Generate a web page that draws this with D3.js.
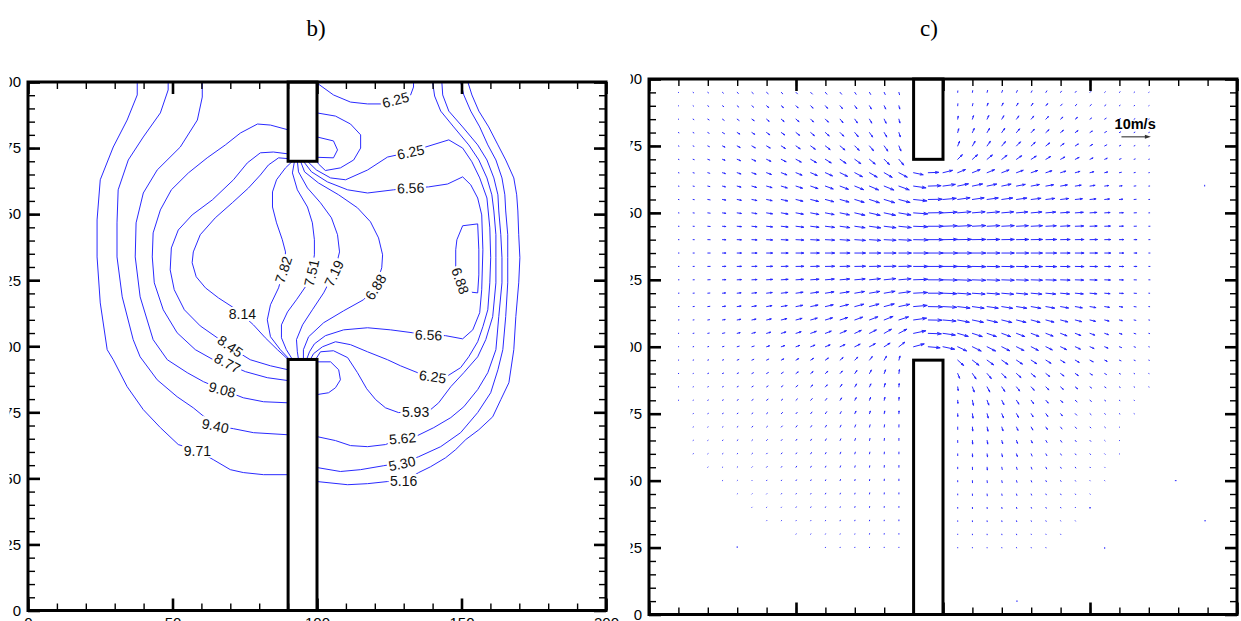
<!DOCTYPE html>
<html><head><meta charset="utf-8">
<script src="https://cdn.jsdelivr.net/npm/d3@7"></script>
<style>
body{margin:0;background:#fff}
svg{display:block}
</style>
</head><body>
<svg id="fig" width="1241" height="621"></svg>
<script>
// ---------------- DATA ----------------
const panelTitles = ["b)", "c)"];
const xMajorTicks = [0, 50, 100, 150, 200];
const yMajorTicks = [0, 25, 50, 75, 100, 125, 150, 175, 200];
const xMinorTicks = [0,10,20,30,40,50,60,70,80,90,100,110,120,130,140,150,160,170,180,190,200];
const yMinorTicks = [0,5,10,15,20,25,30,35,40,45,50,55,60,65,70,75,80,85,90,95,100,105,110,115,120,125,130,135,140,145,150,155,160,165,170,175,180,185,190,195,200];
// obstacles [x0, x1, y0, y1]
const blocks = [[90, 100, 170, 200], [90, 100, 0, 95]];

// contour lines (data coordinates)
const contourLines = [
 {lv:"9.71", pts:[[37.8,200],[37.8,195.1],[34.3,185.6],[29.5,175.4],[25.0,163.0],[23.9,147.8],[23.9,133.8],[25.0,116.4],[27.4,98.7],[29.5,94.9],[34.3,84.7],[39.9,76.0],[45.8,69.2],[52.0,62.8],[58.6,60.5],[64.1,57.1],[70.0,53.3],[74.5,52.2],[81.5,51.4],[90,51.4]]},
 {lv:"9.40", pts:[[48.5,200],[48.5,197.0],[45.8,188.3],[39.9,179.2],[34.7,170.5],[31.2,159.2],[30.8,146.7],[30.8,133.8],[32.6,118.7],[36.4,102.5],[38.8,96.0],[44.7,87.3],[51.6,80.9],[57.2,76.7],[64.8,69.9],[71.1,68.8],[78.0,67.3],[90,66.5]]},
 {lv:"9.08", pts:[[60.3,200],[60.3,194.3],[58.6,185.6],[52.7,175.4],[44.7,166.7],[39.9,158.0],[37.4,146.7],[37.1,133.8],[38.8,118.7],[43.3,102.5],[48.2,94.9],[55.1,90.0],[60.7,86.6],[67.2,83.6],[74.5,80.5],[81.5,79.0],[90,78.6]]},
 {lv:"8.77", pts:[[90,181.9],[83.9,183.7],[79.4,184.1],[73.5,180.7],[68.3,176.2],[62.0,171.3],[55.5,165.6],[49.6,159.2],[45.8,151.6],[43.3,142.9],[43.0,133.8],[43.7,124.0],[46.8,113.8],[51.6,105.1],[57.9,98.7],[64.1,94.9],[69.0,93.4],[75.2,90.4],[82.8,88.1],[90,87.0]]},
 {lv:"8.45", pts:[[90,172.8],[84.9,173.5],[80.4,173.2],[75.9,169.4],[71.1,163.0],[63.8,155.4],[56.8,149.7],[52.0,144.0],[49.6,137.2],[49.2,128.9],[50.6,121.4],[54.1,113.8],[59.6,107.7],[65.5,103.2],[70.7,99.1],[76.9,94.9],[83.9,92.6],[90,91.1]]},
 {lv:"8.14", pts:[[90,171.0],[86.7,171.3],[83.2,168.6],[80.4,164.8],[76.3,159.9],[70.7,154.3],[64.8,148.6],[59.6,142.2],[57.2,135.7],[56.8,131.6],[58.2,126.3],[61.4,122.1],[65.9,118.3],[70.7,114.9],[74.2,111.9],[78.0,108.1],[82.1,103.2],[86.3,98.7],[90,95]]},
 {lv:"7.82", pts:[[91.5,170],[89.1,167.5],[86.0,163.0],[84.6,158.4],[84.6,152.7],[86.0,146.7],[88.0,140.3],[89.1,135.7],[88.7,129.7],[86.7,122.1],[83.9,115.7],[82.8,110.0],[83.9,103.6],[87.3,98.7],[90.5,95]]},
 {lv:"7.51", pts:[[92.2,170],[91.5,165.6],[93.2,159.2],[96.7,152.7],[98.4,146.7],[99.1,140.3],[99.1,134.6],[98.1,128.2],[96.0,122.5],[92.9,117.6],[89.8,113.0],[87.7,108.1],[87.7,103.2],[89.4,98.7],[91.5,95]]},
 {lv:"7.19", pts:[[93.2,170],[93.6,166.0],[96.7,159.9],[101.2,154.3],[105.0,148.6],[107.1,142.2],[107.8,135.7],[106.1,128.2],[102.3,120.2],[98.4,113.8],[95.0,108.1],[92.9,102.5],[93.2,97.9],[93.6,95]]},
 {lv:"6.88", pts:[[94.3,170],[95.7,166.0],[100.5,161.8],[107.5,157.3],[114.0,152.4],[118.5,147.1],[121.3,141.0],[122.7,134.6],[122.4,129.7],[120.3,122.5],[116.1,117.6],[109.2,113.4],[102.3,108.9],[97.1,103.6],[95.3,98.7],[95.3,95]]},
 {lv:"6.88", pts:[[150.4,145.6],[155.6,146.3],[156.0,136.5],[156.0,127.0],[155.6,120.2],[152.2,120.6],[149.1,124.4],[148.0,129.7],[148.0,136.5],[148.4,140.3],[150.4,145.6]]},
 {lv:"6.56", pts:[[95.3,170],[98.1,166.0],[103.6,162.2],[110.6,159.2],[117.5,158.0],[126.5,159.2],[132.4,159.9],[138.6,160.3],[145.2,161.4],[150.4,164.1],[153.2,161.1],[155.6,156.1],[157.0,149.7],[157.4,136.5],[157.0,121.4],[156.3,112.7],[153.9,106.2],[150.4,102.8],[144.5,104.0],[138.6,104.3],[133.1,105.1],[125.5,106.2],[117.5,107.0],[109.2,106.2],[102.9,104.0],[99.1,100.9],[97.4,97.9],[96.4,95]]},
 {lv:"6.25", pts:[[96.7,170],[99.8,166.7],[104.7,163.7],[109.9,163.0],[117.5,166.7],[124.4,171.6],[132.4,173.5],[137.6,175.4],[145.6,178.1],[150.4,175.0],[153.6,169.8],[156.3,163.7],[158.8,156.1],[159.8,144.8],[160.1,133.5],[159.8,124.0],[159.1,113.8],[157.4,107.4],[155.6,101.7],[152.5,96.0],[149.7,91.9],[145.2,88.8],[140.0,88.5],[134.8,90.0],[128.9,92.6],[124.4,94.9],[117.5,97.9],[111.6,100.6],[106.4,101.7],[101.9,99.8],[98.8,97.2],[97.7,95]]},
 {lv:"6.25", pts:[[100,199.6],[105.7,195.1],[111.6,192.4],[117.5,191.7],[122.0,191.7],[127.2,193.2],[132.4,195.1],[133.4,198.1],[133.4,200]]},
 {lv:"5.93", pts:[[100,188.3],[106.4,187.1],[111.6,184.1],[115.1,180.0],[115.1,175.0],[112.7,170.5],[108.1,167.5],[102.9,166.5],[100.5,169],[100,170]]},
 {lv:"5.62", pts:[[100,179.2],[105.7,177.7],[107.1,174.3],[105.7,171.3],[100,171.5]]},
 {lv:"5.93", pts:[[100,94.1],[104.7,94.1],[107.5,91.1],[108.1,87.3],[106.4,84.3],[104.0,82.4],[100,81.7]]},
 {lv:"5.93", pts:[[140.0,200],[140.7,194.7],[142.8,189.0],[147.3,183.0],[152.5,176.2],[156.0,170.5],[158.8,163.7],[160.5,157.3],[161.2,151.2],[161.9,142.2],[161.9,133.5],[161.9,124.0],[160.8,111.2],[158.4,102.5],[155.6,96.0],[150.8,90.0],[146.3,84.7],[142.1,78.6],[139.3,76.0],[134.1,75.2],[128.2,74.9],[123.7,76.7],[120.3,79.8],[117.2,83.9],[114.0,90.0],[110.6,95.7],[105.7,98.3],[101.2,97.9],[99.5,95]]},
 {lv:"5.62", pts:[[143.2,200],[143.5,195.1],[145.6,189.0],[150.4,183.0],[155.6,176.2],[158.8,170.5],[161.2,163.7],[162.6,157.3],[162.9,151.2],[163.6,142.2],[164.0,133.5],[164.0,124.0],[162.9,111.2],[161.9,98.7],[159.1,90.0],[155.6,83.6],[150.8,77.1],[146.3,73.0],[140.4,69.2],[134.8,66.2],[129.6,65.4],[123.7,62.8],[117.5,62.0],[111.6,62.4],[106.4,64.3],[100,65.8]]},
 {lv:"5.30", pts:[[149.7,200],[150.8,195.1],[153.2,189.0],[156.3,183.0],[159.1,176.2],[161.9,170.5],[164.0,163.7],[165.0,157.3],[165.3,151.2],[166.0,142.2],[166.0,133.5],[166.0,124.0],[165.3,111.2],[164.3,98.7],[162.6,91.1],[160.1,82.4],[155.6,74.9],[149.7,67.3],[142.8,62.0],[135.2,58.2],[129.6,56.0],[123.1,54.8],[115.1,53.3],[108.1,52.6],[100,54.1]]},
 {lv:"5.16", pts:[[152.2,200],[153.6,195.1],[156.0,189.0],[159.4,183.0],[162.6,176.2],[165.3,170.5],[168.1,163.7],[169.1,157.3],[169.5,151.2],[169.8,142.2],[170.2,133.5],[169.8,124.0],[168.8,111.2],[168.1,98.7],[166.4,86.2],[163.6,79.8],[160.8,73.3],[156.0,68.4],[151.5,64.7],[148.0,60.9],[144.5,57.8],[139.3,54.4],[135.2,52.2],[130.0,48.8],[124.4,48.8],[117.5,48.0],[110.6,47.6],[100,48.8]]}
];
// contour labels: text, x, y, rotation
const contourLabels = [
 ["6.25",127.2,193.2,-15],["6.25",132.4,173.5,-12],["6.56",132.4,159.9,-2],
 ["7.82",88.4,129.0,-72],["7.51",98.1,127.8,-78],["7.19",105.9,127.6,-65],["6.88",120.3,122.4,-58],
 ["6.88",149.6,124.8,70],["8.14",74.2,112.2,0],["8.45",70.0,100.0,35],["8.77",69.0,93.6,28],
 ["9.08",67.2,83.6,15],["9.40",64.8,69.9,12],["9.71",58.6,60.5,0],["6.56",138.6,104.3,2],
 ["6.25",140.0,88.5,8],["5.93",134.1,75.2,0],["5.62",129.6,65.2,-5],["5.30",129.4,55.6,-12],["5.16",130.0,49.0,0]
];

// vector field grid
const gridX = [10,15,20,25,30,35,40,45,50,55,60,65,70,75,80,85,90,95,100,105,110,115,120,125,130,135,140,145,150,155,160,165,170];
const gridY = [195,190,185,180,175,170,165,160,155,150,145,140,135,130,125,120,115,110,105,100,95,90,85,80,75,70,65,60,55,50,45,40,35,30,25];
const n = null;
// speed in m/s
const speedRows = [
 [0.1,0.2,0.3,0.4,0.5,0.6,0.7,0.7,0.7,0.8,0.8,0.8,0.8,0.8,0.8,0.8,n,n,n,0.5,0.6,0.7,0.7,0.7,0.6,0.6,0.5,0.5,0.4,0.3,0.3,0.2,0.1],
 [0.1,0.2,0.4,0.5,0.7,0.8,0.9,0.9,1.0,1.1,1.1,1.2,1.2,1.2,1.2,1.1,n,n,n,0.7,0.8,0.9,1.0,1.0,1.0,0.9,0.8,0.7,0.6,0.5,0.3,0.2,0.1],
 [0.1,0.3,0.5,0.7,0.8,0.9,1.1,1.2,1.3,1.3,1.4,1.5,1.5,1.5,1.5,1.3,n,n,n,1.0,1.2,1.3,1.3,1.3,1.3,1.2,1.0,0.9,0.7,0.6,0.4,0.3,0.1],
 [0.2,0.3,0.5,0.8,1.0,1.1,1.3,1.4,1.5,1.6,1.7,1.7,1.8,1.8,1.7,1.5,n,n,n,1.3,1.5,1.6,1.7,1.6,1.5,1.4,1.2,1.1,0.9,0.7,0.5,0.3,0.2],
 [0.2,0.3,0.6,0.9,1.1,1.3,1.4,1.6,1.7,1.9,2.0,2.1,2.1,2.1,2.1,1.8,n,n,n,1.7,1.8,1.9,1.9,1.9,1.8,1.6,1.4,1.2,1.0,0.8,0.5,0.3,0.2],
 [0.2,0.4,0.7,0.9,1.2,1.4,1.6,1.8,2.0,2.2,2.3,2.4,2.5,2.5,2.5,2.5,n,n,n,2.2,2.3,2.3,2.2,2.1,2.0,1.8,1.6,1.4,1.1,0.9,0.6,0.4,0.2],
 [0.2,0.4,0.7,1.0,1.3,1.5,1.7,2.0,2.2,2.4,2.6,2.8,2.9,3.0,3.1,3.2,3.3,3.5,3.3,2.8,2.8,2.7,2.6,2.4,2.3,2.1,1.8,1.6,1.3,1.0,0.7,0.4,0.2],
 [0.2,0.4,0.7,1.0,1.3,1.6,1.9,2.1,2.3,2.6,2.8,3.0,3.2,3.3,3.5,3.7,4.2,4.3,4.2,3.7,3.5,3.3,3.2,3.0,2.8,2.6,2.3,2.0,1.7,1.3,0.9,0.6,0.3],
 [0.2,0.4,0.8,1.1,1.4,1.7,1.9,2.2,2.4,2.7,2.9,3.1,3.3,3.5,3.7,3.9,4.5,4.7,4.5,4.2,4.0,3.8,3.7,3.5,3.3,3.0,2.7,2.4,2.0,1.6,1.1,0.7,0.3],
 [0.2,0.4,0.8,1.1,1.4,1.7,2.0,2.3,2.5,2.8,3.0,3.2,3.5,3.7,3.9,4.1,4.8,5.0,4.8,4.5,4.3,4.2,4.0,3.8,3.6,3.3,3.0,2.7,2.3,1.8,1.3,0.8,0.3],
 [0.2,0.4,0.8,1.1,1.4,1.7,2.0,2.3,2.6,2.8,3.1,3.3,3.5,3.8,4.0,4.2,4.8,5.0,4.8,4.7,4.5,4.3,4.2,4.0,3.8,3.5,3.2,2.8,2.4,1.9,1.3,0.8,0.4],
 [0.2,0.4,0.8,1.1,1.4,1.7,2.0,2.3,2.6,2.9,3.1,3.3,3.6,3.8,4.0,4.2,4.9,5.0,4.9,4.7,4.5,4.3,4.2,4.1,3.8,3.6,3.2,2.9,2.5,2.0,1.4,0.9,0.4],
 [0.2,0.4,0.8,1.1,1.4,1.7,2.0,2.3,2.6,2.9,3.1,3.3,3.6,3.8,4.0,4.2,4.9,5.0,4.9,4.7,4.5,4.3,4.2,4.1,3.8,3.6,3.2,2.9,2.5,2.0,1.4,0.9,0.4],
 [0.2,0.4,0.8,1.1,1.4,1.7,2.0,2.3,2.6,2.9,3.1,3.3,3.6,3.8,4.0,4.2,4.9,5.0,4.9,4.7,4.5,4.3,4.2,4.1,3.8,3.6,3.2,2.9,2.5,2.0,1.4,0.9,0.4],
 [0.2,0.4,0.8,1.1,1.4,1.7,2.0,2.3,2.5,2.8,3.0,3.2,3.5,3.7,3.9,4.1,4.8,5.0,4.8,4.7,4.5,4.3,4.2,4.0,3.8,3.5,3.2,2.8,2.4,1.9,1.3,0.8,0.4],
 [0.2,0.4,0.7,1.0,1.3,1.6,1.9,2.2,2.4,2.7,2.9,3.1,3.3,3.5,3.7,3.9,4.7,4.9,4.7,4.5,4.3,4.2,4.0,3.8,3.6,3.3,3.0,2.7,2.3,1.8,1.3,0.8,0.3],
 [0.2,0.4,0.7,1.0,1.3,1.5,1.8,2.0,2.3,2.5,2.7,2.9,3.1,3.3,3.5,3.7,4.6,4.8,4.6,4.2,4.0,3.8,3.7,3.5,3.3,3.0,2.7,2.4,2.0,1.6,1.1,0.7,0.3],
 [0.2,0.3,0.6,0.9,1.2,1.4,1.6,1.9,2.1,2.3,2.5,2.7,2.8,3.0,3.2,3.4,4.4,4.6,4.4,4.0,3.8,3.6,3.5,3.3,3.1,2.8,2.5,2.2,1.9,1.5,1.0,0.6,0.3],
 [0.1,0.3,0.5,0.8,1.0,1.2,1.4,1.6,1.8,2.0,2.1,2.3,2.4,2.6,2.8,3.0,4.2,4.4,4.2,3.7,3.5,3.3,3.2,3.0,2.8,2.6,2.3,2.0,1.7,1.3,0.9,0.6,0.3],
 [0.1,0.2,0.3,0.5,0.7,0.8,1.0,1.2,1.3,1.5,1.7,1.8,2.0,2.2,2.3,2.5,3.7,4.0,4.0,3.3,3.3,3.2,3.0,2.8,2.7,2.4,2.2,1.9,1.5,1.2,0.8,0.5,0.2],
 [0.1,0.2,0.3,0.4,0.6,0.7,0.8,0.9,1.0,1.1,1.2,1.3,1.4,1.5,1.5,1.4,n,n,n,2.7,2.8,2.7,2.5,2.4,2.2,2.0,1.7,1.5,1.2,0.9,0.6,0.4,0.2],
 [0.1,0.1,0.3,0.4,0.5,0.6,0.7,0.8,0.9,1.0,1.1,1.1,1.2,1.3,1.3,1.3,n,n,n,1.7,2.2,2.2,2.1,2.0,1.8,1.6,1.4,1.2,0.9,0.7,0.4,0.2,0.1],
 [0.1,0.1,0.2,0.3,0.4,0.5,0.6,0.7,0.8,0.9,0.9,1.0,1.1,1.1,1.2,1.1,n,n,n,1.2,1.8,1.9,1.8,1.7,1.5,1.4,1.2,1.0,0.7,0.5,0.3,0.2,0.1],
 [0.1,0.1,0.2,0.3,0.4,0.5,0.6,0.6,0.7,0.8,0.8,0.9,1.0,1.0,1.0,1.0,n,n,n,1.0,1.7,1.7,1.6,1.5,1.4,1.2,1.0,0.8,0.6,0.4,0.2,0.1,0],
 [0,0.1,0.2,0.3,0.3,0.4,0.5,0.6,0.6,0.7,0.8,0.8,0.9,0.9,0.9,0.9,n,n,n,0.9,1.5,1.5,1.5,1.4,1.2,1.1,0.9,0.7,0.5,0.3,0.2,0.1,0],
 [0,0.1,0.1,0.2,0.3,0.4,0.4,0.5,0.6,0.6,0.7,0.7,0.8,0.8,0.8,0.8,n,n,n,0.8,1.3,1.4,1.3,1.2,1.1,0.9,0.8,0.6,0.4,0.3,0.1,0,0],
 [0,0.1,0.1,0.2,0.3,0.3,0.4,0.4,0.5,0.5,0.6,0.6,0.7,0.7,0.7,0.7,n,n,n,0.7,1.2,1.2,1.1,1.0,0.9,0.8,0.7,0.5,0.4,0.2,0.1,0,0],
 [0,0.1,0.1,0.2,0.2,0.3,0.3,0.4,0.4,0.5,0.5,0.6,0.6,0.6,0.6,0.6,n,n,n,0.6,1.0,1.0,1.0,0.9,0.8,0.7,0.5,0.4,0.3,0.2,0.1,0,0],
 [0,0,0.1,0.1,0.2,0.2,0.3,0.3,0.4,0.4,0.4,0.5,0.5,0.5,0.6,0.6,n,n,n,0.5,0.8,0.9,0.8,0.8,0.7,0.6,0.4,0.3,0.2,0.1,0,0,0],
 [0,0,0,0.1,0.1,0.1,0.2,0.2,0.3,0.3,0.3,0.4,0.4,0.4,0.5,0.5,n,n,n,0.4,0.7,0.7,0.7,0.6,0.5,0.4,0.3,0.2,0.1,0.1,0,0,0],
 [0,0,0,0,0.1,0.1,0.1,0.2,0.2,0.2,0.3,0.3,0.3,0.4,0.4,0.4,n,n,n,0.3,0.5,0.6,0.5,0.5,0.4,0.3,0.3,0.2,0.1,0,0,0,0],
 [0,0,0,0,0,0.1,0.1,0.1,0.2,0.2,0.2,0.2,0.3,0.3,0.3,0.3,n,n,n,0.3,0.4,0.4,0.4,0.4,0.3,0.3,0.2,0.1,0.1,0,0,0,0],
 [0,0,0,0,0,0,0.1,0.1,0.1,0.1,0.1,0.2,0.2,0.2,0.2,0.3,n,n,n,0.2,0.3,0.3,0.3,0.3,0.2,0.2,0.1,0.1,0,0,0,0,0],
 [0,0,0,0,0,0,0,0,0.1,0.1,0.1,0.1,0.1,0.2,0.2,0.2,n,n,n,0.1,0.2,0.2,0.2,0.2,0.1,0.1,0.1,0,0,0,0,0,0],
 [0,0,0,0,0,0,0,0,0,0,0.1,0.1,0.1,0.1,0.1,0.1,n,n,n,0.1,0.1,0.1,0.1,0.1,0.1,0.1,0,0,0,0,0,0,0]
];
// direction in degrees (counter-clockwise from +x)
const angleRows = [
 [-35,-35,-35,-40,-40,-40,-40,-45,-45,-45,-50,-50,-55,-60,-65,-75,n,n,n,85,80,75,70,66,62,58,54,50,46,42,38,34,30],
 [-35,-35,-35,-35,-40,-40,-40,-40,-45,-45,-50,-50,-55,-60,-65,-75,n,n,n,85,77,70,64,59,55,51,47,44,41,38,35,32,30],
 [-30,-30,-30,-35,-35,-35,-40,-40,-40,-45,-45,-50,-55,-60,-65,-75,n,n,n,80,72,65,59,54,50,46,42,39,36,33,30,28,25],
 [-25,-25,-28,-30,-30,-32,-35,-35,-38,-40,-42,-45,-50,-55,-60,-72,n,n,n,75,66,60,55,50,46,42,39,36,33,30,28,25,22],
 [-22,-22,-25,-25,-28,-30,-30,-32,-35,-36,-38,-40,-45,-50,-55,-68,n,n,n,68,60,55,50,46,42,39,36,33,30,28,26,23,20],
 [-18,-18,-20,-20,-22,-24,-25,-27,-28,-30,-32,-34,-36,-40,-45,-50,n,n,n,45,42,40,38,35,33,31,29,27,25,23,21,19,17],
 [-15,-15,-16,-17,-18,-19,-20,-21,-22,-23,-24,-26,-28,-30,-30,-28,-12,2,14,22,22,22,21,20,19,18,17,16,15,14,13,12,10],
 [-12,-12,-13,-14,-15,-16,-16,-17,-18,-19,-20,-21,-22,-23,-22,-20,-8,2,8,12,12,12,12,11,11,10,10,9,9,8,8,7,6],
 [-9,-9,-10,-10,-11,-12,-12,-13,-14,-14,-15,-16,-17,-18,-17,-15,-6,1,5,8,8,8,8,8,7,7,7,6,6,6,5,5,4],
 [-7,-7,-7,-8,-8,-9,-9,-10,-10,-11,-11,-12,-13,-13,-12,-10,-4,1,3,5,5,5,5,5,5,5,4,4,4,4,3,3,3],
 [-4,-4,-5,-5,-5,-6,-6,-6,-7,-7,-7,-8,-8,-8,-7,-6,-2,0,2,3,3,3,3,3,3,3,3,2,2,2,2,2,2],
 [-2,-2,-2,-2,-2,-3,-3,-3,-3,-3,-3,-4,-4,-4,-3,-3,-1,0,1,1,1,1,1,1,1,1,1,1,1,1,1,1,1],
 [0,0,0,0,0,0,0,0,0,0,0,0,0,0,0,0,0,0,0,0,0,0,0,0,0,0,0,0,0,0,0,0,0],
 [1,1,1,1,1,1,1,1,1,1,1,1,1,1,1,1,0,0,0,-1,-1,-1,-1,-1,-1,-1,-1,-1,-1,-1,-1,-1,-1],
 [2,2,3,3,3,3,4,4,4,4,5,5,5,6,6,5,2,0,-1,-2,-2,-2,-2,-2,-2,-2,-2,-2,-2,-2,-2,-2,-2],
 [4,4,5,5,6,6,7,7,8,8,9,9,10,10,10,8,3,0,-2,-4,-4,-4,-5,-5,-5,-5,-5,-5,-5,-5,-4,-4,-4],
 [6,6,7,7,8,9,10,10,11,12,13,14,15,15,15,12,5,-1,-3,-7,-8,-8,-9,-9,-10,-10,-10,-10,-10,-9,-9,-8,-8],
 [8,8,9,10,11,12,13,14,15,16,17,18,20,21,22,18,8,-1,-5,-11,-12,-13,-14,-14,-15,-15,-15,-15,-14,-14,-13,-12,-11],
 [10,10,11,12,14,15,16,17,18,20,21,23,25,27,30,28,12,-2,-8,-16,-18,-19,-20,-21,-21,-21,-21,-21,-20,-19,-18,-17,-16],
 [12,13,14,15,16,17,18,19,20,21,22,24,26,28,32,38,15,-5,-12,-25,-26,-27,-27,-27,-27,-26,-26,-25,-24,-23,-22,-20,-18],
 [15,16,18,20,22,24,26,28,30,33,36,40,45,52,60,75,n,n,n,-42,-38,-36,-35,-34,-33,-32,-31,-30,-28,-26,-24,-22,-20],
 [18,19,21,23,25,27,30,33,36,39,43,48,54,62,70,82,n,n,n,-68,-56,-50,-46,-42,-40,-38,-36,-34,-32,-30,-28,-25,-22],
 [20,22,24,26,28,31,34,37,40,44,48,53,59,66,74,85,n,n,n,-82,-70,-62,-56,-52,-48,-45,-42,-39,-36,-33,-30,-27,-24],
 [22,24,26,28,31,34,37,40,44,48,52,57,63,70,77,86,n,n,n,-86,-78,-70,-64,-58,-54,-50,-46,-42,-38,-35,-32,-28,-25],
 [24,26,28,30,33,36,40,44,48,52,56,61,66,72,79,87,n,n,n,-88,-82,-75,-68,-62,-58,-54,-50,-46,-42,-38,-34,-30,-30],
 [26,28,30,33,36,39,43,47,51,55,59,64,69,75,81,88,n,n,n,-89,-85,-78,-72,-66,-61,-57,-53,-49,-45,-41,-37,-33,-30],
 [28,30,32,35,38,41,45,49,53,57,61,66,71,77,83,89,n,n,n,-89,-86,-80,-75,-70,-65,-60,-56,-52,-48,-44,-40,-36,-32],
 [30,32,34,37,40,43,47,51,55,59,63,68,73,78,84,89,n,n,n,-89,-87,-82,-77,-72,-67,-62,-58,-54,-50,-46,-42,-38,-34],
 [32,34,36,39,42,45,49,53,57,61,65,70,75,80,85,89,n,n,n,-89,-88,-84,-79,-74,-69,-64,-60,-56,-52,-48,-44,-40,-36],
 [32,34,36,39,42,45,49,53,57,61,65,70,75,80,85,89,n,n,n,-89,-88,-84,-79,-74,-69,-64,-60,-56,-52,-48,-44,-40,-36],
 [32,34,36,39,42,45,49,53,57,61,65,70,75,80,85,89,n,n,n,-89,-88,-84,-79,-74,-69,-64,-60,-56,-52,-48,-44,-40,-36],
 [32,34,36,39,42,45,49,53,57,61,65,70,75,80,85,89,n,n,n,-89,-88,-84,-79,-74,-69,-64,-60,-56,-52,-48,-44,-40,-36],
 [32,34,36,39,42,45,49,53,57,61,65,70,75,80,85,89,n,n,n,-89,-88,-84,-79,-74,-69,-64,-60,-56,-52,-48,-44,-40,-36],
 [32,34,36,39,42,45,49,53,57,61,65,70,75,80,85,89,n,n,n,-89,-88,-84,-79,-74,-69,-64,-60,-56,-52,-48,-44,-40,-36],
 [32,34,36,39,42,45,49,53,57,61,65,70,75,80,85,89,n,n,n,-89,-88,-84,-79,-74,-69,-64,-60,-56,-52,-48,-44,-40,-36]
];
// isolated small vectors: x, y, speed, angle
const strayVectors = [[189,160,0.3,90],[179,50,0.3,0],[189,35,0.3,0],[155,25,0.3,-90],[150,40,0.3,-90],[125,5,0.3,0],[30,25,0.3,90]];
const refVector = {speed: 10, angle: 0, label: "10m/s"};

// ---------------- LAYOUT ----------------
const FONT = '"Liberation Sans", Arial, Helvetica, sans-serif';
const svg = d3.select("#fig");
const defs = svg.append("defs");
const panels = [
  {left: 28, right: 606, top: 82, bottom: 610.5, clipLeft: 9.5, titleX: 316, xLabels: true},
  {left: 649, right: 1237, top: 79, bottom: 614.5, clipLeft: 630.5, titleX: 929, xLabels: false}
];
const refPos = {x: 160.7, y: 178.4};

svg.append("rect").attr("width",1241).attr("height",621).attr("fill","#fff");

function makeScales(p){
  return {
    x: d3.scaleLinear().domain([0,200]).range([p.left, p.right]),
    y: d3.scaleLinear().domain([0,200]).range([p.bottom, p.top])
  };
}

function drawFrame(g, p, s, idx){
  const cid = "lblclip" + idx;
  defs.append("clipPath").attr("id", cid)
     .append("rect").attr("x", p.clipLeft - p.left).attr("y", -10).attr("width", 1300).attr("height", 700);

  const major = 12, minor = 7;
  const aL = d3.axisLeft(s.y).tickValues(yMajorTicks).tickSize(-major).tickPadding(7).tickFormat(d3.format("d"));
  const aLm = d3.axisLeft(s.y).tickValues(yMinorTicks).tickSize(-minor).tickFormat("");
  const aR = d3.axisRight(s.y).tickValues(yMajorTicks).tickSize(-major).tickFormat("");
  const aRm = d3.axisRight(s.y).tickValues(yMinorTicks).tickSize(-minor).tickFormat("");
  const aB = d3.axisBottom(s.x).tickValues(xMajorTicks).tickSize(-major).tickPadding(6.5).tickFormat(d3.format("d"));
  const aBm = d3.axisBottom(s.x).tickValues(xMinorTicks).tickSize(-minor).tickFormat("");
  const aT = d3.axisTop(s.x).tickValues(xMajorTicks).tickSize(-major).tickFormat("");
  const aTm = d3.axisTop(s.x).tickValues(xMinorTicks).tickSize(-minor).tickFormat("");

  const add = (ax, tr, w) => {
    const gg = g.append("g").attr("transform", tr).call(ax);
    gg.select(".domain").remove();
    gg.selectAll("line").attr("stroke","#000").attr("stroke-width", w);
    gg.selectAll("text").attr("font-family", FONT).attr("font-size", 15).attr("fill","#000");
    return gg;
  };
  add(aLm, `translate(${p.left},0)`, 1.4);
  add(aRm, `translate(${p.right},0)`, 1.4);
  add(aBm, `translate(0,${p.bottom})`, 1.4);
  add(aTm, `translate(0,${p.top})`, 1.4);
  const gl = add(aL, `translate(${p.left},0)`, 2.6);
  gl.selectAll("text").attr("clip-path", `url(#${cid})`);
  add(aR, `translate(${p.right},0)`, 2.6);
  const gb = add(aB, `translate(0,${p.bottom})`, 2.6);
  if (!p.xLabels) gb.selectAll("text").remove();
  add(aT, `translate(0,${p.top})`, 2.6);

  g.append("rect").attr("x", p.left).attr("y", p.top)
   .attr("width", p.right - p.left).attr("height", p.bottom - p.top)
   .attr("fill","none").attr("stroke","#000").attr("stroke-width",3);
}

function drawBlocks(g, s){
  g.selectAll(null).data(blocks).enter().append("rect")
   .attr("x", d => s.x(d[0])).attr("y", d => s.y(d[3]))
   .attr("width", d => s.x(d[1]) - s.x(d[0])).attr("height", d => s.y(d[2]) - s.y(d[3]))
   .attr("fill","#fff").attr("stroke","#000").attr("stroke-width",3);
}

// titles
panels.forEach((p, i) => {
  svg.append("text").attr("x", p.titleX).attr("y", 36).attr("text-anchor","middle")
     .attr("font-family", '"Liberation Serif","Times New Roman",serif').attr("font-size", 23)
     .text(panelTitles[i]);
});

// ---------------- PANEL b : contours ----------------
{
  const p = panels[0], s = makeScales(p);
  const g = svg.append("g");
  defs.append("clipPath").attr("id","plotb").append("rect")
     .attr("x",p.left).attr("y",p.top).attr("width",p.right-p.left).attr("height",p.bottom-p.top);
  const gc = g.append("g").attr("clip-path","url(#plotb)");
  const line = d3.line().x(d => s.x(d[0])).y(d => s.y(d[1])).curve(d3.curveLinear);
  gc.selectAll("path.cl").data(contourLines).enter().append("path")
    .attr("d", d => line(d.pts)).attr("fill","none")
    .attr("stroke","#2a2aff").attr("stroke-width",1.0);
  const lg = gc.selectAll("g.lbl").data(contourLabels).enter().append("g")
    .attr("transform", d => `translate(${s.x(d[1])},${s.y(d[2])}) rotate(${d[3]})`);
  lg.append("rect").attr("fill","#fff");
  const tx = lg.append("text").attr("text-anchor","middle").attr("dy","0.36em")
    .attr("font-family", FONT).attr("font-size", 14).attr("fill","#111")
    .text(d => d[0]);
  tx.each(function(){
    const b = this.getBBox();
    d3.select(this.parentNode).select("rect")
      .attr("x", b.x - 1.5).attr("y", b.y + 1).attr("width", b.width + 3).attr("height", b.height - 2);
  });
  drawBlocks(g, s);
  drawFrame(g, p, s, 0);
}

// ---------------- PANEL c : vectors ----------------
{
  const p = panels[1], s = makeScales(p);
  const g = svg.append("g");
  const k = s.x(1) - s.x(0); // px per m/s (vector length in x-units)
  const arrows = [];
  gridY.forEach((gy, r) => gridX.forEach((gx, c) => {
    const sp = speedRows[r][c], an = angleRows[r][c];
    if (sp == null || an == null || sp === 0) return;
    arrows.push({x: gx, y: gy, s: sp, a: an});
  }));
  strayVectors.forEach(v => arrows.push({x: v[0], y: v[1], s: v[2], a: v[3]}));

  function arrowPath(x0, y0, L, a){
    const r = a * Math.PI / 180;
    const x1 = x0 + L * Math.cos(r), y1 = y0 - L * Math.sin(r);
    let d = `M${x0},${y0}L${x1},${y1}`;
    if (L > 2.5) {
      const h = Math.min(0.3 * L, 4), ha = 18 * Math.PI / 180;
      const b1 = r + Math.PI - ha, b2 = r + Math.PI + ha;
      d += `M${x1 + h*Math.cos(b1)},${y1 - h*Math.sin(b1)}L${x1},${y1}L${x1 + h*Math.cos(b2)},${y1 - h*Math.sin(b2)}`;
    }
    return d;
  }
  g.append("g").selectAll("path").data(arrows).enter().append("path")
   .attr("d", d => arrowPath(s.x(d.x), s.y(d.y), d.s * k, d.a))
   .attr("fill","none").attr("stroke","#2828ff").attr("stroke-width",1.0)
   .attr("stroke-linecap","round").attr("stroke-linejoin","round");

  // reference vector
  const rx = s.x(refPos.x), ry = s.y(refPos.y), rl = refVector.speed * k;
  g.append("path").attr("d", `M${rx},${ry}L${rx+rl-4},${ry}`).attr("stroke","#333").attr("stroke-width",1.1);
  g.append("path").attr("d", `M${rx+rl},${ry}L${rx+rl-6},${ry-2}L${rx+rl-6},${ry+2}Z`).attr("fill","#333");
  g.append("text").attr("x", rx + rl/2 - 1).attr("y", ry - 8).attr("text-anchor","middle")
   .attr("font-family", FONT).attr("font-weight","bold").attr("font-size", 14.5).text(refVector.label);

  drawBlocks(g, s);
  drawFrame(g, p, s, 1);
}
</script>
</body></html>
